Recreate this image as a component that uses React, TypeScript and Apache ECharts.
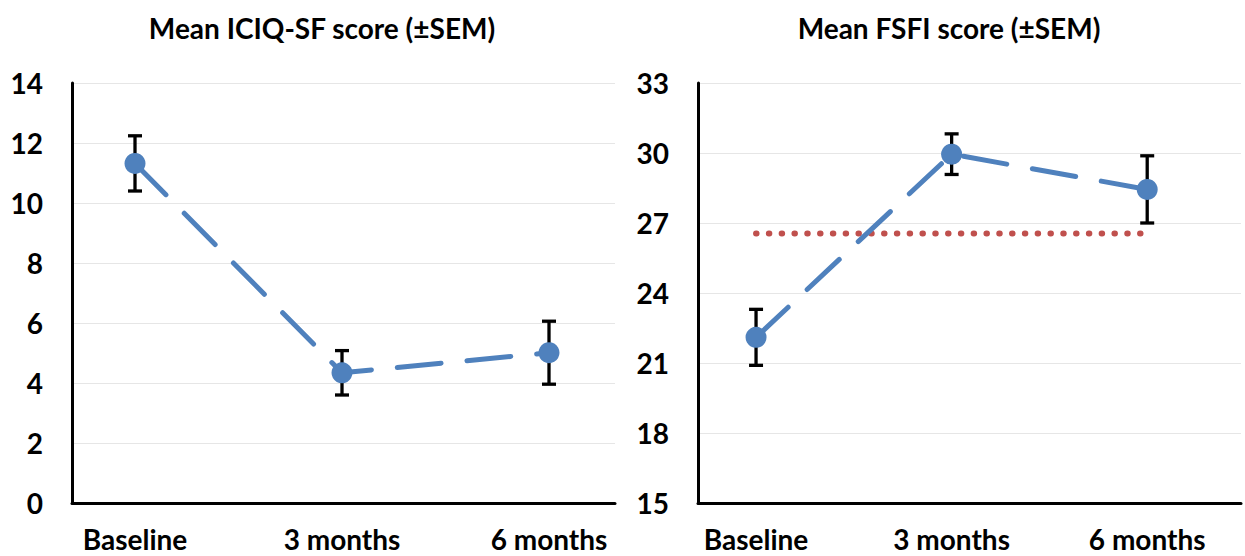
import React, { useEffect, useRef } from "react";
import * as echarts from "echarts";

const categories = ["Baseline", "3 months", "6 months"];
const iciqMean = [11.32, 4.34, 5.01];
const iciqSem = [0.92, 0.74, 1.05];
const fsfiMean = [22.1, 29.95, 28.44];
const fsfiSem = [1.2, 0.87, 1.44];
const fsfiCutoff = [26.55, 26.55, 26.55];
const iciqTicks = { min: 0, max: 14, interval: 2 };
const fsfiTicks = { min: 15, max: 33, interval: 3 };
const titles = ["Mean ICIQ-SF score (\u00b1SEM)", "Mean FSFI score (\u00b1SEM)"];

const FONT = "Lato, 'Noto Sans', sans-serif";
const BLUE = "#4F81BD";
const RED = "#C0504D";

function errorRender(params: any, api: any) {
  const x = api.value(0);
  const lo = api.value(1);
  const hi = api.value(2);
  const p1 = api.coord([x, hi]);
  const p2 = api.coord([x, lo]);
  const hw = 7;
  const style = { stroke: "#000", lineWidth: 3.3 };
  return {
    type: "group",
    children: [
      { type: "line", shape: { x1: p1[0], y1: p1[1], x2: p2[0], y2: p2[1] }, style },
      { type: "line", shape: { x1: p1[0] - hw, y1: p1[1], x2: p1[0] + hw, y2: p1[1] }, style },
      { type: "line", shape: { x1: p2[0] - hw, y1: p2[1], x2: p2[0] + hw, y2: p2[1] }, style },
    ],
  };
}

export default function App() {
  const ref = useRef<HTMLDivElement>(null);
  useEffect(() => {
    if (!ref.current) return;
    const chart = echarts.init(ref.current, null, { renderer: "svg" });

    const frameY = (gi: number, t: any) => ({
      gridIndex: gi,
      type: "value",
      min: t.min,
      max: t.max,
      interval: t.interval,
      axisLine: { show: true, lineStyle: { color: "#000", width: 3 } },
      axisTick: { show: false },
      axisLabel: { fontFamily: FONT, fontWeight: "bold", fontSize: 28, color: "#000", margin: 29 },
      splitLine: { show: true, lineStyle: { color: "#e6e6e6", width: 1 } },
    });
    const frameX = (gi: number) => ({
      gridIndex: gi,
      type: "value",
      min: 0,
      max: 1,
      axisLine: { show: true, onZero: false, lineStyle: { color: "#000", width: 3 } },
      axisTick: { show: false },
      axisLabel: { show: false },
      splitLine: { show: false },
    });
    const dataX = (gi: number) => ({
      gridIndex: gi,
      type: "category",
      data: categories,
      boundaryGap: true,
      axisLine: { show: false },
      axisTick: { show: false },
      axisLabel: {
        fontFamily: FONT,
        fontWeight: "bold",
        fontSize: 28,
        lineHeight: 28,
        color: "#000",
        margin: 22,
      },
      splitLine: { show: false },
    });
    const dataY = (gi: number, t: any) => ({
      gridIndex: gi,
      type: "value",
      min: t.min,
      max: t.max,
      show: false,
      splitLine: { show: false },
    });

    const meanLine = (xi: number, vals: number[]) => ({
      type: "line",
      xAxisIndex: xi,
      yAxisIndex: xi,
      data: vals,
      symbol: "circle",
      symbolSize: 21,
      z: 5,
      itemStyle: { color: BLUE },
      lineStyle: { color: BLUE, width: 5, type: [44, 26], cap: "round" },
    });
    const errBars = (xi: number, vals: number[], sem: number[]) => ({
      type: "custom",
      xAxisIndex: xi,
      yAxisIndex: xi,
      z: 3,
      renderItem: errorRender,
      encode: { x: 0, y: [1, 2] },
      data: vals.map((v, i) => [i, v - sem[i], v + sem[i]]),
    });

    const titleText = (x: number, text: string) => ({
      type: "text",
      x,
      y: 28,
      style: {
        text,
        fontFamily: FONT,
        fontWeight: "bold",
        fontSize: 28,
        fill: "#000",
        textAlign: "center",
        textVerticalAlign: "middle",
      },
    });

    chart.setOption({
      animation: false,
      grid: [
        { left: 72, top: 83, width: 543, height: 420 },
        { left: 31.5, top: 83, width: 621, height: 420 },
        { left: 698, top: 83, width: 543, height: 420 },
        { left: 658.25, top: 83, width: 616.5, height: 420 },
      ],
      xAxis: [frameX(0), dataX(1), frameX(2), dataX(3)],
      yAxis: [frameY(0, iciqTicks), dataY(1, iciqTicks), frameY(2, fsfiTicks), dataY(3, fsfiTicks)],
      graphic: [titleText(322, titles[0]), titleText(949, titles[1])],
      series: [
        errBars(1, iciqMean, iciqSem),
        meanLine(1, iciqMean),
        {
          type: "line",
          xAxisIndex: 3,
          yAxisIndex: 3,
          data: fsfiCutoff,
          symbol: "none",
          z: 2,
          lineStyle: { color: RED, width: 6, type: [0.5, 12.3], cap: "round" },
        },
        errBars(3, fsfiMean, fsfiSem),
        meanLine(3, fsfiMean),
      ],
    });
    return () => chart.dispose();
  }, []);
  return (
    <div
      ref={ref}
      style={{ position: "fixed", left: 0, top: 0, width: 1245, height: 556, background: "#fff" }}
    />
  );
}
